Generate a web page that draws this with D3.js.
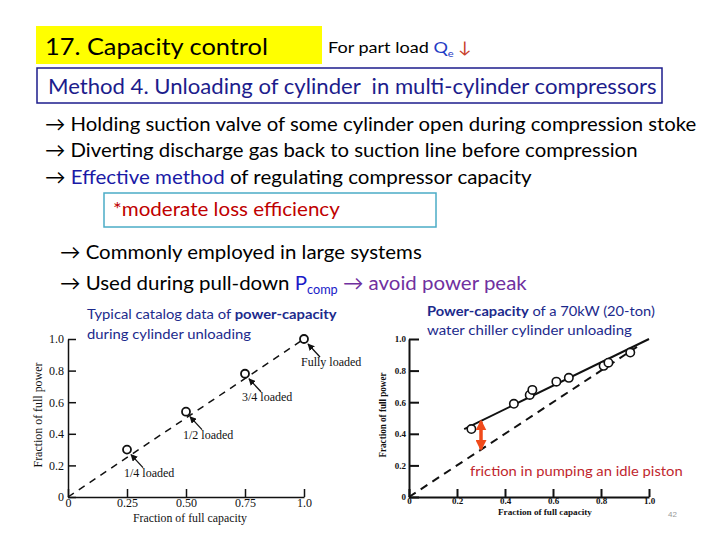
<!DOCTYPE html>
<html><head><meta charset="utf-8">
<script src="https://cdn.jsdelivr.net/npm/d3@7"></script>
<style>body{margin:0;background:#fff}svg{display:block}</style>
</head><body>
<svg id="c" width="720" height="540"></svg>
<script>
// ---------------- data ----------------
const yTicks = [0, 0.2, 0.4, 0.6, 0.8, 1.0];
const yTickLabels = ["0", "0.2", "0.4", "0.6", "0.8", "1.0"];

const leftCapacity = [0.25, 0.50, 0.75, 1.0];
const leftPower = [0.30, 0.54, 0.78, 1.0];
const leftLabels = ["1/4 loaded", "1/2 loaded", "3/4 loaded", "Fully loaded"];
const leftXTicks = [0, 0.25, 0.50, 0.75, 1.0];
const leftXTickLabels = ["0", "0.25", "0.50", "0.75", "1.0"];
const leftIdealCapacity = [0, 1.0];
const leftIdealPower = [0, 1.0];

const rightCapacity = [0.26, 0.437, 0.503, 0.514, 0.614, 0.666, 0.811, 0.831, 0.922];
const rightPower = [0.43, 0.59, 0.646, 0.678, 0.73, 0.754, 0.83, 0.85, 0.914];
const rightFitCapacity = [0.23, 1.0];
const rightFitPower = [0.43, 1.0];
const rightIdealCapacity = [0, 0.95];
const rightIdealPower = [0, 0.95];
const rightXTicks = [0, 0.2, 0.4, 0.6, 0.8, 1.0];
const rightXTickLabels = ["0", "0.2", "0.4", "0.6", "0.8", "1.0"];
const frictionCapacity = 0.30;

// ---------------- helpers ----------------
const svg = d3.select("#c");
svg.append("rect").attr("width", 720).attr("height", 540).attr("fill", "#fff");
const SANS = "Lato, 'Open Sans', sans-serif";
const SERIF = "'Liberation Serif', 'DejaVu Serif', serif";

function fitText(parent, x, y, segs, width, o) {
  o = o || {};
  const size = o.size || 16, fam = o.family || SANS;
  const g = parent.append("g");
  const t = g.append("text").attr("font-family", fam).attr("font-size", size)
    .style("white-space", "pre");
  let shift = 0;
  segs.forEach(s => {
    const ts = t.append("tspan").text(s.t).attr("fill", s.c || o.color || "#000");
    if (s.b || o.bold) ts.attr("font-weight", "bold");
    if (s.sub) { ts.attr("font-size", size * 0.62).attr("dy", size * 0.22); shift = size * 0.22; }
    else if (shift) { ts.attr("dy", -shift); shift = 0; }
  });
  const w = t.node().getComputedTextLength();
  const k = width ? width / w : 1;
  if (o.anchor === "middle") t.attr("x", -w / 2);
  g.attr("transform", `translate(${x},${y}) rotate(${o.rotate || 0}) scale(${k},1)`);
  return g;
}

// ---------------- slide header ----------------
svg.append("rect").attr("x", 36).attr("y", 26).attr("width", 286).attr("height", 38).attr("fill", "#ffff00");
fitText(svg, 45, 55, [{ t: "17. Capacity control" }], 223, { size: 24 });
fitText(svg, 328, 53, [{ t: "For part load " }, { t: "Q", c: "#1f3cc4" }, { t: "e", c: "#1f3cc4", sub: true }, { t: " ↓", c: "#c8402a" }], 144, { size: 16 });

svg.append("rect").attr("x", 37).attr("y", 68).attr("width", 625).attr("height", 35)
  .attr("fill", "none").attr("stroke", "#1c1c8c").attr("stroke-width", 1.5);
fitText(svg, 48, 94, [{ t: "Method 4. Unloading of cylinder  in multi-cylinder compressors" }], 609, { size: 22, color: "#1c1c8c" });

const BLUE = "#1a1aa6", PURPLE = "#7030a0";
fitText(svg, 45, 131, [{ t: "→ Holding suction valve of some cylinder open during compression stoke" }], 652, { size: 20 });
fitText(svg, 45, 157, [{ t: "→ Diverting discharge gas back to suction line before compression" }], 593, { size: 20 });
fitText(svg, 45, 184, [{ t: "→ " }, { t: "Effective method", c: BLUE }, { t: " of regulating compressor capacity" }], 487, { size: 20 });

svg.append("rect").attr("x", 104).attr("y", 193).attr("width", 332).attr("height", 34)
  .attr("fill", "none").attr("stroke", "#4bacc6").attr("stroke-width", 1.5);
fitText(svg, 113, 216, [{ t: "*moderate loss efficiency" }], 227, { size: 19, color: "#c00000" });

fitText(svg, 60, 259, [{ t: "→ Commonly employed in large systems" }], 362, { size: 20 });
fitText(svg, 60, 290, [{ t: "→ Used during pull-down " }, { t: "P", c: "#1a1ac8" }, { t: "comp", c: "#1a1ac8", sub: true }, { t: " → avoid power peak", c: PURPLE }], 467, { size: 20 });

// ---------------- left chart ----------------
const xL = d3.scaleLinear().domain([0, 1]).range([68, 304]);
const yL = d3.scaleLinear().domain([0, 1]).range([497, 339]);
const gL = svg.append("g");

const axL_y = gL.append("g").attr("transform", `translate(${xL(0)},0)`)
  .call(d3.axisLeft(yL).tickValues(yTicks).tickSize(-8).tickSizeOuter(0).tickPadding(4)
    .tickFormat((d, i) => yTickLabels[i]));
const axL_x = gL.append("g").attr("transform", `translate(0,${yL(0)})`)
  .call(d3.axisBottom(xL).tickValues(leftXTicks).tickSize(-8).tickSizeOuter(0).tickPadding(1)
    .tickFormat((d, i) => leftXTickLabels[i]));
[axL_y, axL_x].forEach(a => {
  a.selectAll("path,line").attr("stroke", "#111").attr("stroke-width", 1.5);
  a.selectAll("text").attr("font-family", SERIF).attr("font-size", 12).attr("fill", "#111");
});

const lineL = d3.line().x(d => xL(d[0])).y(d => yL(d[1]));
gL.append("path").datum(d3.zip(leftIdealCapacity, leftIdealPower)).attr("d", lineL)
  .attr("fill", "none").attr("stroke", "#111").attr("stroke-width", 1.5).attr("stroke-dasharray", "7,6");

gL.selectAll("circle.pt").data(d3.zip(leftCapacity, leftPower)).join("circle")
  .attr("cx", d => xL(d[0])).attr("cy", d => yL(d[1])).attr("r", 4)
  .attr("fill", "#fff").attr("stroke", "#111").attr("stroke-width", 1.8);

const defs = svg.append("defs");
defs.append("marker").attr("id", "ah").attr("viewBox", "0 0 10 10").attr("refX", 9).attr("refY", 5)
  .attr("markerWidth", 7).attr("markerHeight", 7).attr("markerUnits", "userSpaceOnUse").attr("orient", "auto")
  .append("path").attr("d", "M0,0 L10,5 L0,10 z").attr("fill", "#111");

leftCapacity.forEach((c, i) => {
  const px = xL(c), py = yL(leftPower[i]);
  gL.append("line").attr("x1", px + 16).attr("y1", py + 18).attr("x2", px + 4).attr("y2", py + 5)
    .attr("stroke", "#111").attr("stroke-width", 1.3).attr("marker-end", "url(#ah)");
  gL.append("text").attr("x", px - 3).attr("y", py + 27).text(leftLabels[i])
    .attr("font-family", SERIF).attr("font-size", 12).attr("fill", "#111");
});

fitText(gL, 190, 522, [{ t: "Fraction of full capacity" }], 114, { size: 12, family: SERIF, anchor: "middle", color: "#111" });
fitText(gL, 42, 415, [{ t: "Fraction of full power" }], 105, { size: 12, family: SERIF, anchor: "middle", rotate: -90, color: "#111" });

const NAVY = "#1c2a8c";
fitText(gL, 87, 319, [{ t: "Typical catalog data of " }, { t: "power-capacity", b: true }], 250, { size: 13, color: NAVY });
fitText(gL, 87, 339, [{ t: "during cylinder unloading" }], 164, { size: 13, color: NAVY });

// ---------------- right chart ----------------
const xR = d3.scaleLinear().domain([0, 1]).range([409, 649]);
const yR = d3.scaleLinear().domain([0, 1]).range([497, 339]);
const gR = svg.append("g");

const axR_y = gR.append("g").attr("transform", `translate(${xR(0)},0)`)
  .call(d3.axisLeft(yR).tickValues(yTicks).tickSize(-10).tickSizeOuter(0).tickPadding(3)
    .tickFormat((d, i) => yTickLabels[i]));
const axR_x = gR.append("g").attr("transform", `translate(0,${yR(0)})`)
  .call(d3.axisBottom(xR).tickValues(rightXTicks).tickSize(-8).tickSizeOuter(0).tickPadding(1)
    .tickFormat((d, i) => rightXTickLabels[i]));
[axR_y, axR_x].forEach(a => {
  a.selectAll("path,line").attr("stroke", "#111").attr("stroke-width", 2);
  a.selectAll("text").attr("font-family", SERIF).attr("font-size", 9).attr("font-weight", "bold").attr("fill", "#111");
});

const lineR = d3.line().x(d => xR(d[0])).y(d => yR(d[1]));
gR.append("path").datum(d3.zip(rightIdealCapacity, rightIdealPower)).attr("d", lineR)
  .attr("fill", "none").attr("stroke", "#111").attr("stroke-width", 2).attr("stroke-dasharray", "8,6");
gR.append("path").datum(d3.zip(rightFitCapacity, rightFitPower)).attr("d", lineR)
  .attr("fill", "none").attr("stroke", "#111").attr("stroke-width", 2);

gR.selectAll("circle.pt").data(d3.zip(rightCapacity, rightPower)).join("circle")
  .attr("cx", d => xR(d[0])).attr("cy", d => yR(d[1])).attr("r", 4.2)
  .attr("fill", "#fff").attr("stroke", "#111").attr("stroke-width", 1.6);

// friction double arrow between ideal line and fitted line
const fitAt = c => rightFitPower[0] + (c - rightFitCapacity[0]) * (rightFitPower[1] - rightFitPower[0]) / (rightFitCapacity[1] - rightFitCapacity[0]);
const idealAt = c => c * rightIdealPower[1] / rightIdealCapacity[1];
defs.append("marker").attr("id", "rh").attr("viewBox", "0 0 10 10").attr("refX", 8).attr("refY", 5)
  .attr("markerWidth", 11).attr("markerHeight", 11).attr("markerUnits", "userSpaceOnUse").attr("orient", "auto-start-reverse")
  .append("path").attr("d", "M0,0 L10,5 L0,10 z").attr("fill", "#f04a1a");
const fx = xR(frictionCapacity);
gR.append("line").attr("x1", fx).attr("x2", fx)
  .attr("y1", yR(idealAt(frictionCapacity) + 0.005)).attr("y2", yR(fitAt(frictionCapacity) - 0.005))
  .attr("stroke", "#f04a1a").attr("stroke-width", 3.5)
  .attr("marker-start", "url(#rh)").attr("marker-end", "url(#rh)");

fitText(gR, 470, 476, [{ t: "friction in pumping an idle piston" }], 213, { size: 14, color: "#c0262d" });

fitText(gR, 545, 515, [{ t: "Fraction of full capacity" }], 94, { size: 9, family: SERIF, bold: true, anchor: "middle", color: "#111" });
fitText(gR, 386, 415, [{ t: "Fraction of full power" }], 85, { size: 10, family: SERIF, bold: true, anchor: "middle", rotate: -90, color: "#111" });

fitText(gR, 427, 316, [{ t: "Power-capacity", b: true }, { t: " of a 70kW (20-ton)" }], 228, { size: 13, color: NAVY });
fitText(gR, 427, 335, [{ t: "water chiller cylinder unloading" }], 205, { size: 13, color: NAVY });

svg.append("text").attr("x", 668).attr("y", 517).text("42")
  .attr("font-family", "'Liberation Sans', sans-serif").attr("font-size", 8).attr("fill", "#999");
</script>
</body></html>
